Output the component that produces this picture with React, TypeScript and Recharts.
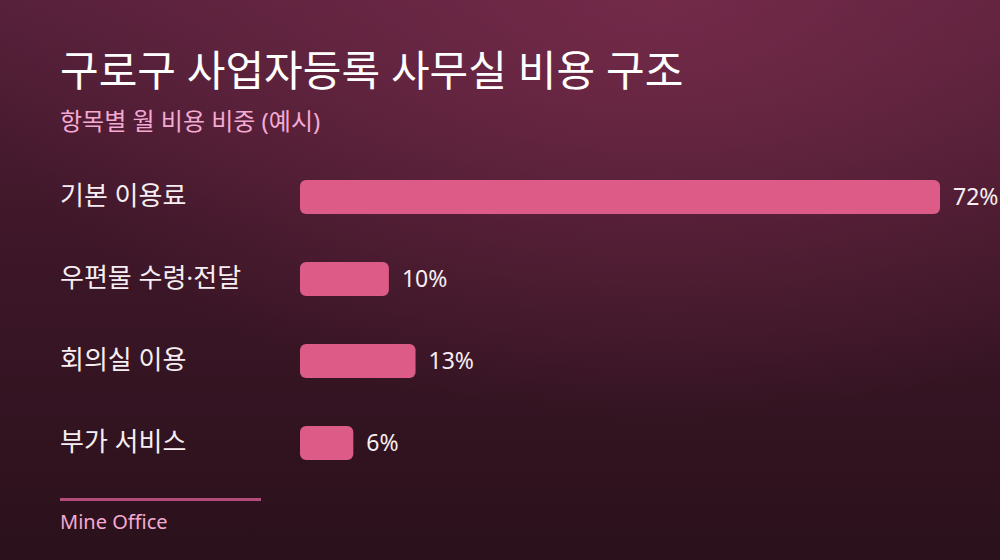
import React from "react";
import { BarChart, Bar, XAxis, YAxis, LabelList } from "recharts";

const categories = ["기본 이용료", "우편물 수령·전달", "회의실 이용", "부가 서비스"];
const shares = [72, 10, 13, 6];
const valueSuffix = "%";

const TITLE = "구로구 사업자등록 사무실 비용 구조";
const SUBTITLE = "항목별 월 비용 비중 (예시)";
const SOURCE = "Mine Office";

const data = categories.map((name, i) => ({ name, value: shares[i] }));

const FONT = "'Noto Sans', 'Noto Sans CJK KR', sans-serif";

const LeftTick = (props: any) => {
  const { y, payload } = props;
  return (
    <text
      x={60}
      y={y}
      dy={8}
      textAnchor="start"
      fill="#f6eef2"
      fontSize={26}
      fontWeight={400}
      fontFamily={FONT}
    >
      {payload.value}
    </text>
  );
};

const ValueLabel = (props: any) => {
  const { x, y, width, height, value } = props;
  return (
    <text
      x={x + width + 13}
      y={y + height / 2}
      dy={8}
      textAnchor="start"
      fill="#f6eef2"
      fontSize={23}
      fontWeight={400}
      fontFamily={FONT}
    >
      {`${value}${valueSuffix}`}
    </text>
  );
};

export default function App() {
  return (
    <div
      style={{
        position: "absolute",
        left: 0,
        top: 0,
        width: 1000,
        height: 560,
        overflow: "hidden",
        fontFamily: FONT,
        background:
          "radial-gradient(ellipse 700px 420px at 66% 0%, rgba(120,44,76,0.85) 0%, rgba(120,44,76,0) 100%), linear-gradient(180deg, #56203a 0%, #3f1729 40%, #2a111b 100%)",
      }}
    >
      <div
        style={{
          position: "absolute",
          left: 60,
          top: 40,
          fontSize: 42,
          fontWeight: 400,
          color: "#ffffff",
          whiteSpace: "nowrap",
          lineHeight: "60px",
        }}
      >
        {TITLE}
      </div>
      <div
        style={{
          position: "absolute",
          left: 60,
          top: 104,
          fontSize: 24,
          fontWeight: 400,
          color: "#f4aad2",
          whiteSpace: "nowrap",
          lineHeight: "34px",
        }}
      >
        {SUBTITLE}
      </div>
      <BarChart
        width={1000}
        height={560}
        data={data}
        layout="vertical"
        margin={{ top: 156, right: 60, bottom: 76, left: 60 }}
        barCategoryGap={0}
        style={{ position: "absolute", left: 0, top: 0 }}
      >
        <XAxis type="number" domain={[0, 72]} hide />
        <YAxis
          type="category"
          dataKey="name"
          width={240}
          axisLine={false}
          tickLine={false}
          tick={<LeftTick />}
          interval={0}
        />
        <Bar
          dataKey="value"
          fill="#dc5b87"
          barSize={34}
          radius={[6, 6, 6, 6]}
          isAnimationActive={false}
        >
          <LabelList dataKey="value" content={<ValueLabel />} />
        </Bar>
      </BarChart>
      <div
        style={{
          position: "absolute",
          left: 60,
          top: 498,
          width: 201,
          height: 3,
          background: "#b44c7b",
        }}
      />
      <div
        style={{
          position: "absolute",
          left: 60,
          top: 507,
          fontSize: 20,
          fontWeight: 400,
          color: "#f4aad2",
          whiteSpace: "nowrap",
          lineHeight: "30px",
        }}
      >
        {SOURCE}
      </div>
    </div>
  );
}
